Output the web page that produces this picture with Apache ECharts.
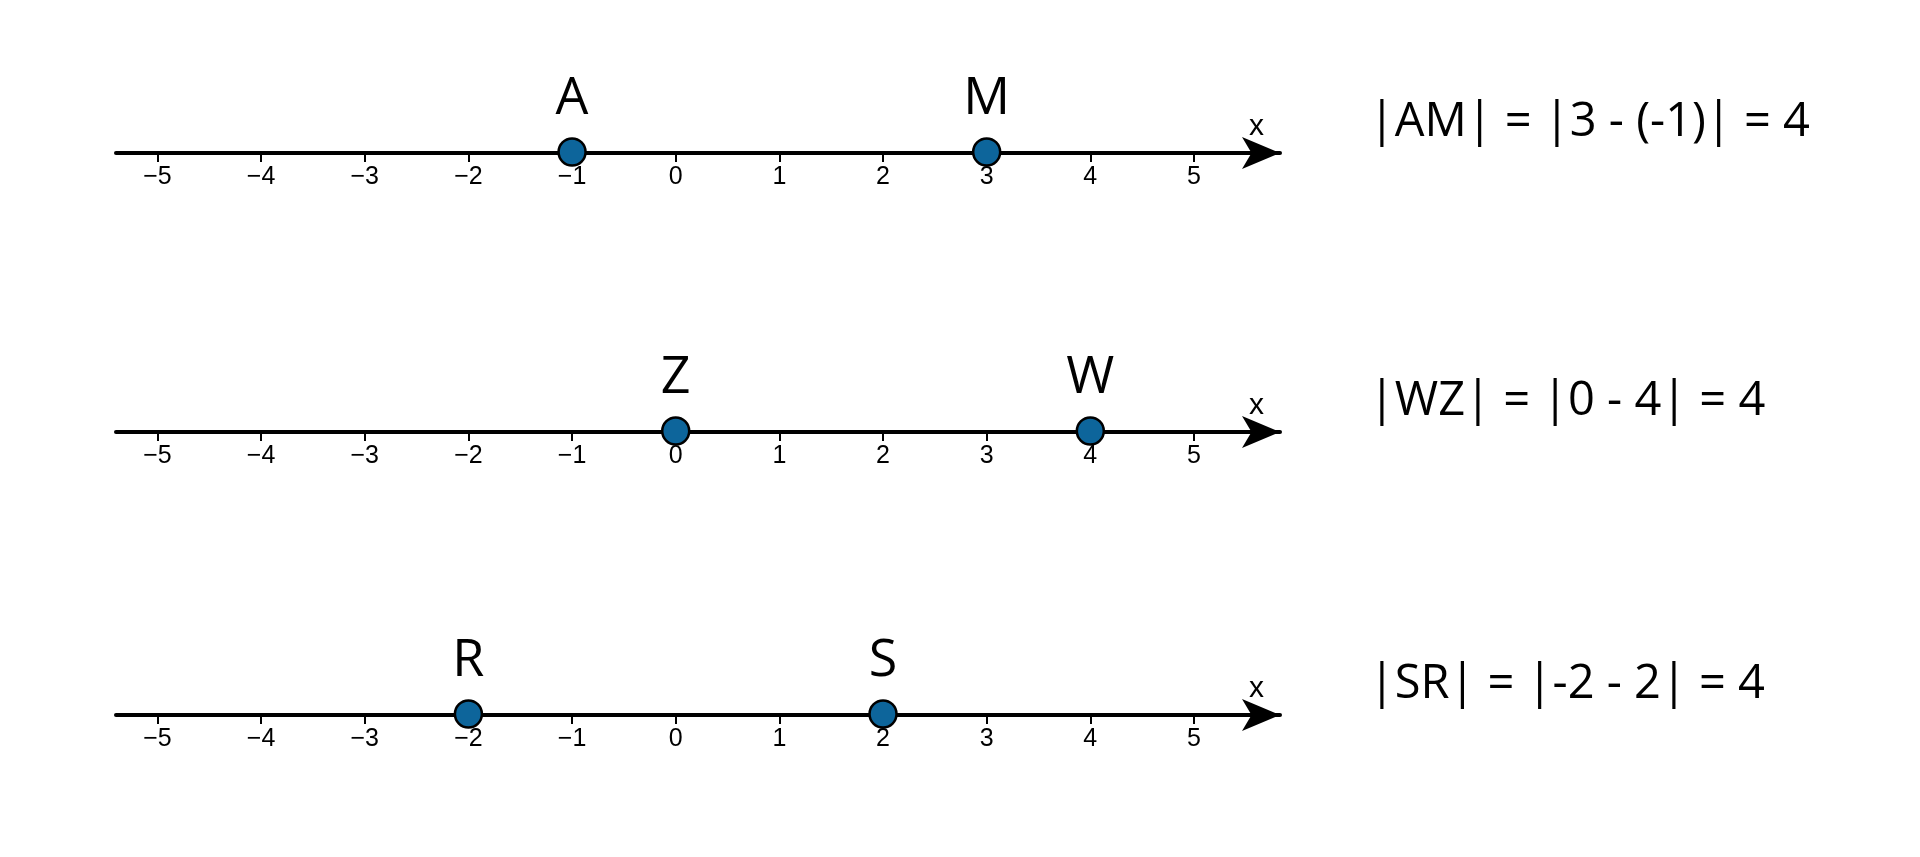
<!DOCTYPE html>
<html><head><meta charset="utf-8">
<script src="https://cdn.jsdelivr.net/npm/echarts@6/dist/echarts.min.js"></script>
<style>html,body{margin:0;padding:0;background:#fff}#c{width:1920px;height:857px}</style>
</head><body><div id="c"></div>
<script>
const tickValues = [-5,-4,-3,-2,-1,0,1,2,3,4,5];
const row1Names = ['A','M'];
const row1Values = [-1, 3];
const row2Names = ['Z','W'];
const row2Values = [0, 4];
const row3Names = ['R','S'];
const row3Values = [-2, 2];
const equations = ['|AM| = |3 - (-1)| = 4', '|WZ| = |0 - 4| = 4', '|SR| = |-2 - 2| = 4'];

const rows = [[row1Names,row1Values],[row2Names,row2Values],[row3Names,row3Values]];
const lineY = [152, 431, 714];
const grids=[], xAxes=[], yAxes=[], series=[], graphics=[];
rows.forEach((r,i)=>{
  grids.push({left:116, width:1164, top:lineY[i]-1, height:2});
  xAxes.push({gridIndex:i, type:'value', min:-5.4, max:5.83,
    axisLine:{onZero:false, lineStyle:{color:'#000', width:4}, symbol:['none','arrow'], symbolSize:[24,38]},
    axisTick:{show:true, customValues:tickValues, length:9, lineStyle:{color:'#000', width:2}},
    axisLabel:{customValues:tickValues, margin:12, fontSize:25, color:'#000', fontFamily:'Liberation Sans',
      formatter:v=>v<0?'\u2212'+Math.abs(v):String(v)},
    splitLine:{show:false}});
  yAxes.push({gridIndex:i, type:'value', min:-1, max:1, show:false});
  series.push({type:'scatter', xAxisIndex:i, yAxisIndex:i, symbolSize:27,
    itemStyle:{color:'#0d659b', borderColor:'#000', borderWidth:2.5, opacity:1},
    label:{show:true, position:'top', distance:12, fontSize:52, color:'#000', fontFamily:'Open Sans',
      formatter:p=>r[0][p.dataIndex]},
    data:r[1].map(v=>[v,0])});
  graphics.push({type:'text', left:1249, top:lineY[i]-40, style:{text:'x', fontSize:30, fill:'#000', fontFamily:'Liberation Sans'}});
  graphics.push({type:'text', left:1369, top:lineY[i]-53, style:{text:equations[i], fontSize:47, fill:'#000', fontFamily:'Open Sans'}});
});
const chart = echarts.init(document.getElementById('c'));
chart.setOption({animation:false, backgroundColor:'#fff', grid:grids, xAxis:xAxes, yAxis:yAxes, series, graphic:graphics});
</script></body></html>
